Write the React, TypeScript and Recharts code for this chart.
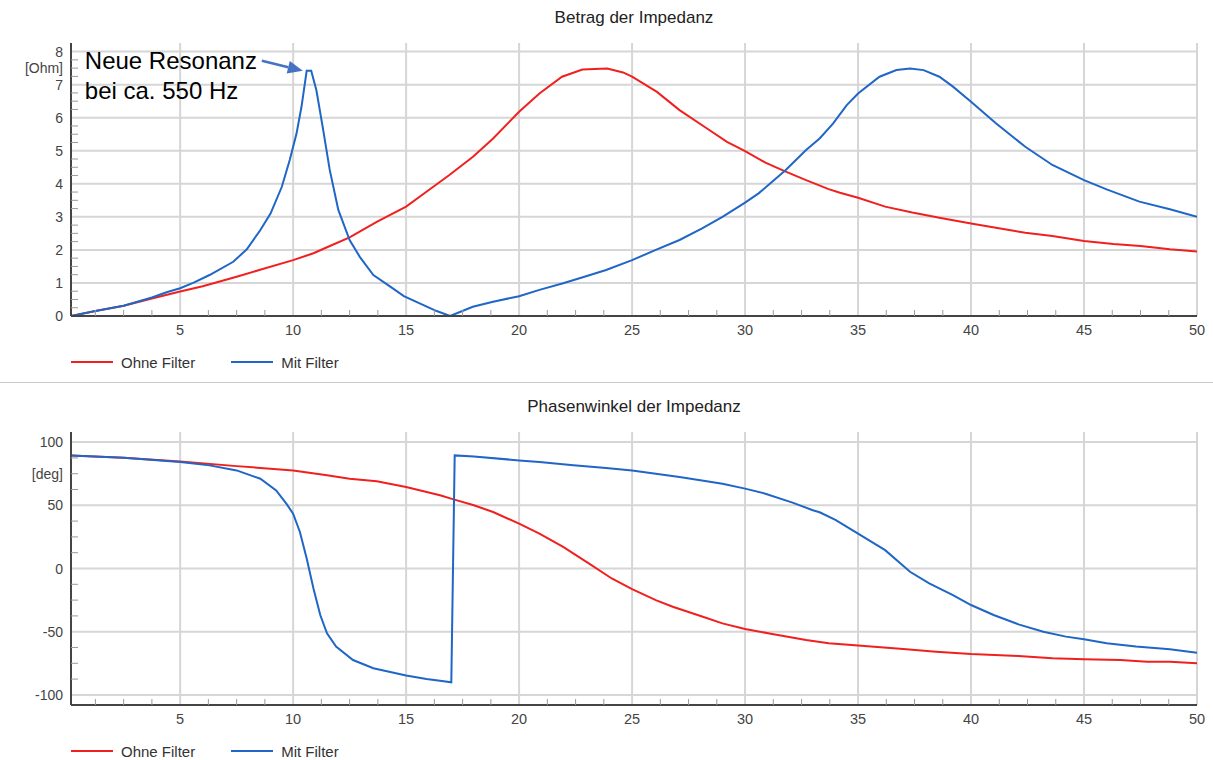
import React from 'react';
import { LineChart, Line, XAxis, YAxis, CartesianGrid, ReferenceDot } from 'recharts';

type Pt = [number, number];

// Betrag der Impedanz [Ohm] over harmonic order
const betragOhne: Pt[] = [
  [0.17, 0], [1.25, 0.15], [2.5, 0.31], [3.75, 0.53], [5, 0.74], [6, 0.9], [7.5, 1.19], [8.5, 1.39],
  [10, 1.69], [10.9, 1.9], [11.5, 2.08], [12.5, 2.38], [13.7, 2.85], [15, 3.31], [15.9, 3.76],
  [16.9, 4.26], [17.96, 4.82], [18.85, 5.37], [20, 6.18], [20.9, 6.73], [21.9, 7.24], [22.8, 7.46],
  [23.9, 7.49], [24.6, 7.37], [25, 7.24], [26.1, 6.78], [27.1, 6.23], [28.3, 5.68], [29.2, 5.27],
  [30, 4.99], [30.9, 4.64], [31.8, 4.37], [32.7, 4.11], [33.7, 3.84], [34.2, 3.73], [35, 3.58],
  [36.2, 3.31], [37.4, 3.13], [38.6, 2.97], [40, 2.8], [41.1, 2.67], [42.4, 2.52], [43.6, 2.42],
  [45, 2.27], [46.3, 2.18], [47.5, 2.12], [48.8, 2.02], [50, 1.95],
];

const betragMit: Pt[] = [
  [0.17, 0], [1.25, 0.15], [2.5, 0.31], [3.75, 0.56], [4.4, 0.72], [5, 0.84], [5.6, 1.01], [6.3, 1.24],
  [7.35, 1.64], [7.95, 2.02], [8.55, 2.6], [9, 3.1], [9.5, 3.91], [9.85, 4.72], [10.15, 5.52],
  [10.37, 6.33], [10.6, 7.42], [10.8, 7.42], [11.03, 6.83], [11.33, 5.63], [11.62, 4.42], [12, 3.21],
  [12.5, 2.3], [12.95, 1.79], [13.55, 1.24], [14.3, 0.89], [14.9, 0.6], [15.6, 0.38], [16.35, 0.15],
  [16.95, 0], [17.95, 0.28], [18.85, 0.43], [20, 0.6], [20.9, 0.79], [21.95, 0.99], [23, 1.21],
  [23.85, 1.39], [25, 1.69], [26.05, 2.0], [27.1, 2.3], [28.1, 2.65], [29, 3.0], [30, 3.43],
  [30.6, 3.71], [31.2, 4.06], [31.8, 4.42], [32.7, 5.02], [33.3, 5.37], [33.9, 5.83], [34.5, 6.38],
  [35, 6.73], [35.95, 7.24], [36.7, 7.44], [37.3, 7.49], [37.9, 7.44], [38.6, 7.24], [39.2, 6.94],
  [40, 6.48], [41.1, 5.83], [42.4, 5.12], [43.6, 4.57], [45, 4.11], [46, 3.83], [47.45, 3.46],
  [48.8, 3.23], [50, 3.0],
];

// Phasenwinkel der Impedanz [deg]
const phaseOhne: Pt[] = [
  [0.17, 89.5], [2.5, 87.6], [5, 84.7], [7.5, 81], [10, 77.6], [11.5, 73.7], [12.5, 71], [13.7, 69],
  [15, 64.5], [16.5, 57.9], [17.1, 54.7], [18, 50], [18.85, 44.7], [20, 35.5], [20.9, 27.6],
  [21.95, 17.1], [23.1, 3.9], [24.1, -7.9], [25, -16.3], [26.05, -25], [26.8, -30.3], [28, -37.4],
  [29, -43.4], [30, -47.9], [31.2, -51.8], [32.7, -56.6], [33.7, -59.2], [35, -61], [37, -63.7],
  [38.45, -65.8], [40, -67.6], [42.1, -69.2], [43.6, -71], [45, -71.8], [46.6, -72.4], [47.8, -73.7],
  [48.8, -73.7], [50, -75],
];

const phaseMit: Pt[] = [
  [0.17, 89.5], [2.5, 87.6], [5, 84.2], [6.3, 81.6], [7.5, 77.6], [8.55, 71], [9.25, 61.8], [9.7, 51.3],
  [10, 43.4], [10.3, 28.9], [10.6, 7.9], [10.9, -15.8], [11.2, -36.8], [11.5, -51.3], [11.9, -61.8],
  [12.65, -72.4], [13.55, -78.9], [15, -84.7], [15.9, -87.4], [16.5, -88.9], [17.0, -90],
  [17.15, 89.5], [18, 88.7], [20, 85.5], [20.9, 84.2], [22.4, 81.6], [23.85, 79.5], [25, 77.6],
  [26.05, 75], [27.1, 72.4], [28.3, 69], [29, 67.1], [30, 63.2], [30.9, 59.2], [32.1, 52.1],
  [33, 46.1], [33.3, 44.5], [34, 38.5], [35, 27.6], [36.2, 14.5], [37.3, -2.6], [38.15, -11.8],
  [39.2, -21], [40, -28.9], [41, -36.8], [42.1, -44.2], [43.2, -50], [44.2, -53.9], [45, -56],
  [46, -59.2], [47.3, -61.8], [48.8, -63.9], [50, -66.6],
];

const seriesNames = ['Ohne Filter', 'Mit Filter'];
const seriesColors = ['#f0201f', '#1f66c6'];

const xMajorTicks = [5, 10, 15, 20, 25, 30, 35, 40, 45, 50];
const xDomain: [number, number] = [0.17, 50];

const betragGridValues = [0, 1, 2, 3, 4, 5, 6, 7, 8];
const betragUnit = '[Ohm]';
const phaseGridValues = [-100, -50, 0, 50, 100];
const phaseUnit = '[deg]';

const annotationLines = ['Neue Resonanz', 'bei ca. 550 Hz'];

const FONT = '"Liberation Sans", Arial, sans-serif';
const W = 1213;
const PANEL_H = 389;

const xTicks = Array.from({ length: 40 }, (_, i) => (i + 1) * 1.25);
const toObjs = (pts: Pt[]) => pts.map(([x, y]) => ({ x, y }));

const XTick = (props: any) => {
  const { x, y, payload } = props;
  const v = payload.value as number;
  const major = xMajorTicks.includes(v);
  return (
    <g>
      {!major && <line x1={x} x2={x} y1={y} y2={y - 6} stroke="#9a9a9a" strokeWidth={1} />}
      {major && (
        <text x={x} y={y + 19} textAnchor="middle" fontSize={14.5} fill="#444" fontFamily={FONT}>
          {v}
        </text>
      )}
    </g>
  );
};

const makeYTick = (gridValues: number[], unitValue: number, unit: string) => (props: any) => {
  const { x, y, payload } = props;
  const v = payload.value as number;
  const major = gridValues.includes(v);
  const label = major ? String(v) : v === unitValue ? unit : '';
  return (
    <g>
      {!major && <line x1={x} x2={x + 7} y1={y} y2={y} stroke="#9a9a9a" strokeWidth={1} />}
      {label && (
        <text x={x - 8} y={y} dy={5} textAnchor="end" fontSize={14} fill="#444" fontFamily={FONT}>
          {label}
        </text>
      )}
    </g>
  );
};

const Annotation = (p: any) => {
  const { cx, cy } = p;
  const sx = cx - 41;
  const sy = cy - 10;
  const dx = cx - sx;
  const dy = cy - sy;
  const len = Math.sqrt(dx * dx + dy * dy);
  const ux = dx / len;
  const uy = dy / len;
  const hl = 15;
  const hw = 6.5;
  const bx = cx - ux * hl;
  const by = cy - uy * hl;
  return (
    <g>
      <line x1={sx} y1={sy} x2={bx} y2={by} stroke="#4472c4" strokeWidth={2.5} />
      <polygon
        points={`${cx},${cy} ${bx - uy * hw},${by + ux * hw} ${bx + uy * hw},${by - ux * hw}`}
        fill="#4472c4"
      />
      {annotationLines.map((t, i) => (
        <text key={t} x={cx - 218} y={cy - 1.5 + i * 30} fontSize={24} fill="#000" fontFamily={FONT}>
          {t}
        </text>
      ))}
    </g>
  );
};

const LegendRow = ({ top }: { top: number }) => (
  <div
    style={{
      position: 'absolute',
      top,
      left: 71,
      height: 20,
      display: 'flex',
      alignItems: 'center',
      fontSize: 15,
      color: '#333',
      fontFamily: FONT,
    }}
  >
    {seriesNames.map((n, i) => (
      <div key={n} style={{ display: 'flex', alignItems: 'center', marginRight: 36 }}>
        <div style={{ width: 42, height: 2.5, background: seriesColors[i], marginRight: 8 }} />
        <span>{n}</span>
      </div>
    ))}
  </div>
);

type PanelProps = {
  top: number;
  title: string;
  ohne: Pt[];
  mit: Pt[];
  yDomain: [number, number];
  yTicks: number[];
  gridValues: number[];
  unitValue: number;
  unit: string;
  annotate?: boolean;
};

const Panel = ({ top, title, ohne, mit, yDomain, yTicks, gridValues, unitValue, unit, annotate }: PanelProps) => (
  <div style={{ position: 'absolute', top, left: 0, width: W, height: PANEL_H }}>
    <div
      style={{
        position: 'absolute',
        top: 8,
        left: 71,
        width: 1126,
        textAlign: 'center',
        fontSize: 17,
        lineHeight: '20px',
        color: '#222',
        fontFamily: FONT,
      }}
    >
      {title}
    </div>
    <LineChart width={W} height={PANEL_H} margin={{ top: 43, right: 16, bottom: 43, left: 11 }}>
      <CartesianGrid
        stroke="#d6d6d6"
        strokeWidth={2}
        horizontalValues={gridValues}
        verticalValues={xMajorTicks}
      />
      <XAxis
        dataKey="x"
        type="number"
        domain={xDomain}
        allowDataOverflow
        ticks={xTicks}
        interval={0}
        tickSize={0}
        tickMargin={0}
        tickLine={false}
        tick={XTick}
        height={30}
        axisLine={{ stroke: '#444', strokeWidth: 2 }}
      />
      <YAxis
        type="number"
        domain={yDomain}
        allowDataOverflow
        ticks={yTicks}
        interval={0}
        tickSize={0}
        tickMargin={0}
        tickLine={false}
        tick={makeYTick(gridValues, unitValue, unit)}
        width={60}
        axisLine={{ stroke: '#444', strokeWidth: 2 }}
      />
      <Line
        data={toObjs(ohne)}
        dataKey="y"
        name={seriesNames[0]}
        type="linear"
        stroke={seriesColors[0]}
        strokeWidth={2}
        dot={false}
        activeDot={false}
        isAnimationActive={false}
      />
      <Line
        data={toObjs(mit)}
        dataKey="y"
        name={seriesNames[1]}
        type="linear"
        stroke={seriesColors[1]}
        strokeWidth={2}
        dot={false}
        activeDot={false}
        isAnimationActive={false}
      />
      {annotate && <ReferenceDot x={10.43} y={7.42} r={0} shape={Annotation} />}
    </LineChart>
    <LegendRow top={352} />
  </div>
);

export default function App() {
  const betragTicks = Array.from({ length: 33 }, (_, i) => i * 0.25);
  const phaseTicks = Array.from({ length: 17 }, (_, i) => -100 + i * 12.5);
  return (
    <div
      style={{
        position: 'absolute',
        left: 0,
        top: 0,
        width: W,
        height: 760,
        background: '#fff',
        overflow: 'hidden',
        fontFamily: FONT,
      }}
    >
      <Panel
        top={0}
        title="Betrag der Impedanz"
        ohne={betragOhne}
        mit={betragMit}
        yDomain={[0, 8.26]}
        yTicks={betragTicks}
        gridValues={betragGridValues}
        unitValue={7.5}
        unit={betragUnit}
        annotate
      />
      <div style={{ position: 'absolute', top: 382, left: 0, width: W, height: 1, background: '#cccccc' }} />
      <Panel
        top={389}
        title="Phasenwinkel der Impedanz"
        ohne={phaseOhne}
        mit={phaseMit}
        yDomain={[-108, 108]}
        yTicks={phaseTicks}
        gridValues={phaseGridValues}
        unitValue={75}
        unit={phaseUnit}
      />
    </div>
  );
}
